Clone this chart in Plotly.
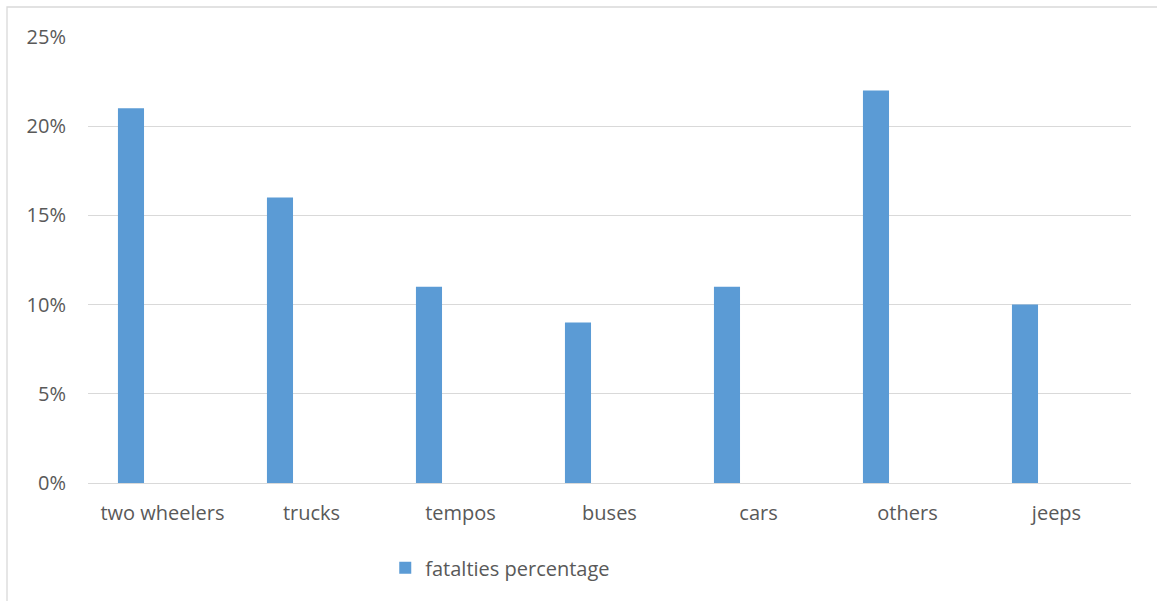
import plotly.graph_objects as go

categories = ["two wheelers", "trucks", "tempos", "buses", "cars", "others", "jeeps"]
fatalities_pct = [0.21, 0.16, 0.11, 0.09, 0.11, 0.22, 0.10]
y_ticks = [0, 0.05, 0.10, 0.15, 0.20, 0.25]
series_name = "fatalties percentage"

BAR_COLOR = "#5B9BD5"
TEXT_COLOR = "#595959"
GRID_COLOR = "#D9D9D9"
FONT = "Open Sans, Liberation Sans, sans-serif"
FONT_SIZE = 20

fig = go.Figure()
fig.add_trace(go.Bar(
    x=categories,
    y=fatalities_pct,
    name=series_name,
    marker=dict(color=BAR_COLOR, line=dict(width=0)),
    width=0.175,
    offset=-0.299,
    showlegend=True,
))

fig.update_layout(
    width=1157,
    height=601,
    margin=dict(l=88, r=26, t=37, b=118),
    paper_bgcolor="white",
    plot_bgcolor="white",
    font=dict(family=FONT, size=FONT_SIZE, color=TEXT_COLOR),
    showlegend=True,
    legend=dict(
        orientation="h",
        x=0.285, xanchor="left",
        y=-0.19, yanchor="middle",
        font=dict(family=FONT, size=FONT_SIZE, color=TEXT_COLOR),
        itemwidth=30,
        bgcolor="rgba(0,0,0,0)",
    ),
    xaxis=dict(
        type="category",
        range=[-0.5, 6.5],
        showgrid=False,
        showline=False,
        zeroline=False,
        ticks="",
        tickfont=dict(family=FONT, size=FONT_SIZE, color=TEXT_COLOR),
        ticklabelstandoff=16,
        fixedrange=True,
    ),
    yaxis=dict(
        range=[0, 0.25],
        tickvals=y_ticks,
        tickformat=".0%",
        showgrid=True,
        gridcolor=GRID_COLOR,
        gridwidth=1.3,
        zeroline=True,
        zerolinecolor=GRID_COLOR,
        zerolinewidth=1.3,
        showline=False,
        ticks="",
        tickfont=dict(family=FONT, size=FONT_SIZE, color=TEXT_COLOR),
        ticklabelstandoff=21,
        fixedrange=True,
    ),
    shapes=[dict(
        type="rect",
        xref="paper", yref="paper",
        x0=(7 - 88) / 1043, x1=(1165 - 88) / 1043,
        y0=(483 - 610) / 446, y1=(483 - 7) / 446,
        line=dict(color=GRID_COLOR, width=1.3),
        fillcolor="rgba(0,0,0,0)",
        layer="below",
    )],
)

fig.write_html("out.html")
